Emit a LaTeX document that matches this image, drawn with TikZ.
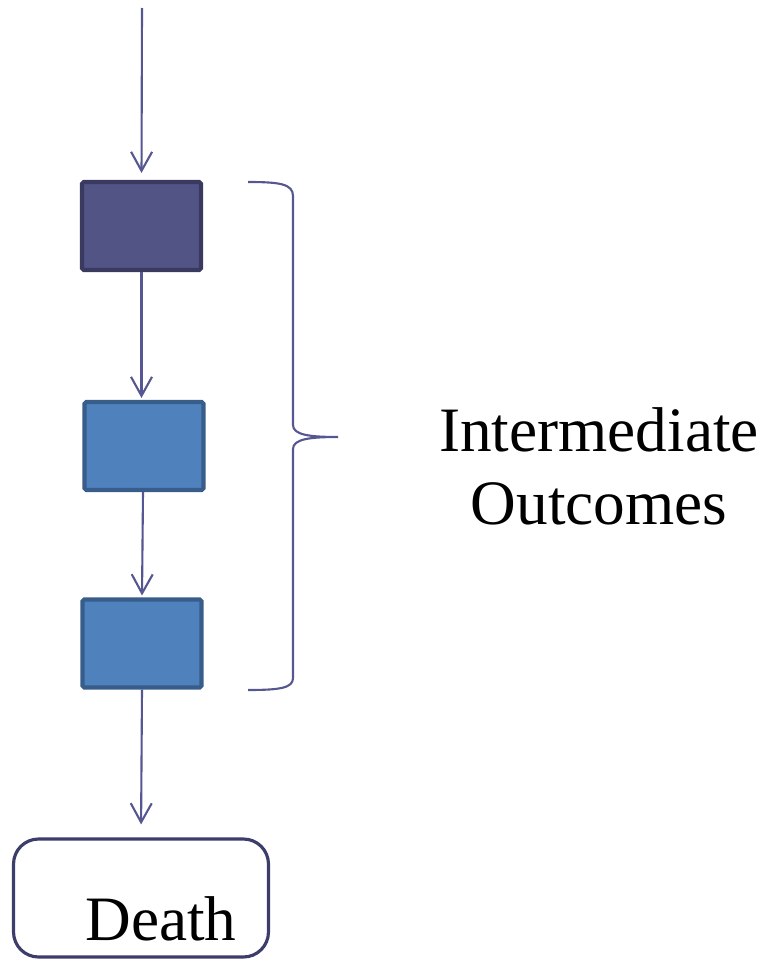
\documentclass[tikz,border=0pt]{standalone}
\usepackage{fontspec}
\setmainfont{Liberation Serif}
\usetikzlibrary{arrows.meta}

\definecolor{linecol}{RGB}{86,86,146}
\definecolor{darkfill}{RGB}{83,84,134}
\definecolor{darkedge}{RGB}{58,58,96}
\definecolor{bluefill}{RGB}{79,129,189}
\definecolor{blueedge}{RGB}{56,93,138}
\definecolor{endedge}{RGB}{61,61,107}

\tikzset{
  stagebox/.style={draw=blueedge, fill=bluefill, line width=2.3pt, rounded corners=1pt,
    minimum width=2.38cm, minimum height=1.76cm, inner sep=0pt},
  flow/.style={->, draw=linecol, line width=1.2pt},
  bigtext/.style={font=\fontsize{36}{41.5}\selectfont}
}

\begin{document}
\begin{tikzpicture}[x=0.02cm, y=-0.02cm, >={Straight Barb[length=3.8mm, width=4.2mm]}]
\useasboundingbox (0,0) rectangle (768,960);

\coordinate (0) at (142,8);
\node[stagebox, draw=darkedge, fill=darkfill] (1) at (141.5,226) {};
\node[stagebox] (2) at (144,446) {};
\node[stagebox] (3) at (142,643.5) {};
\node[draw=endedge, line width=1.8pt, rounded corners=0.5cm,
      minimum width=5.1cm, minimum height=2.36cm] (4) at (141,898) {};
\node[bigtext, anchor=base] (death) at (161,940) {Death};

\node[bigtext, align=center] (io) at (599,466) {Intermediate\\Outcomes};

\draw[flow, shorten >=0.14cm] (0) -- (1.north);
\draw[flow, shorten >=0.04cm] (1.south) -- (1.south |- 2.north);
\draw[flow, shorten >=0.04cm] ([xshift=-0.02cm]2.south) -- (3.north);
\draw[flow, shorten >=0.26cm] (3.south) -- (4.north);

% brace for the intermediate outcomes
\draw[linecol, line width=1.2pt]
  (248,182) .. controls (280,182) and (293,184) .. (293,196) -- (293,425)
  .. controls (293,435) and (310,437) .. (338,437)
  .. controls (310,437) and (293,439) .. (293,449) -- (293,678)
  .. controls (293,688) and (280,690) .. (248,690);

\end{tikzpicture}
\end{document}
